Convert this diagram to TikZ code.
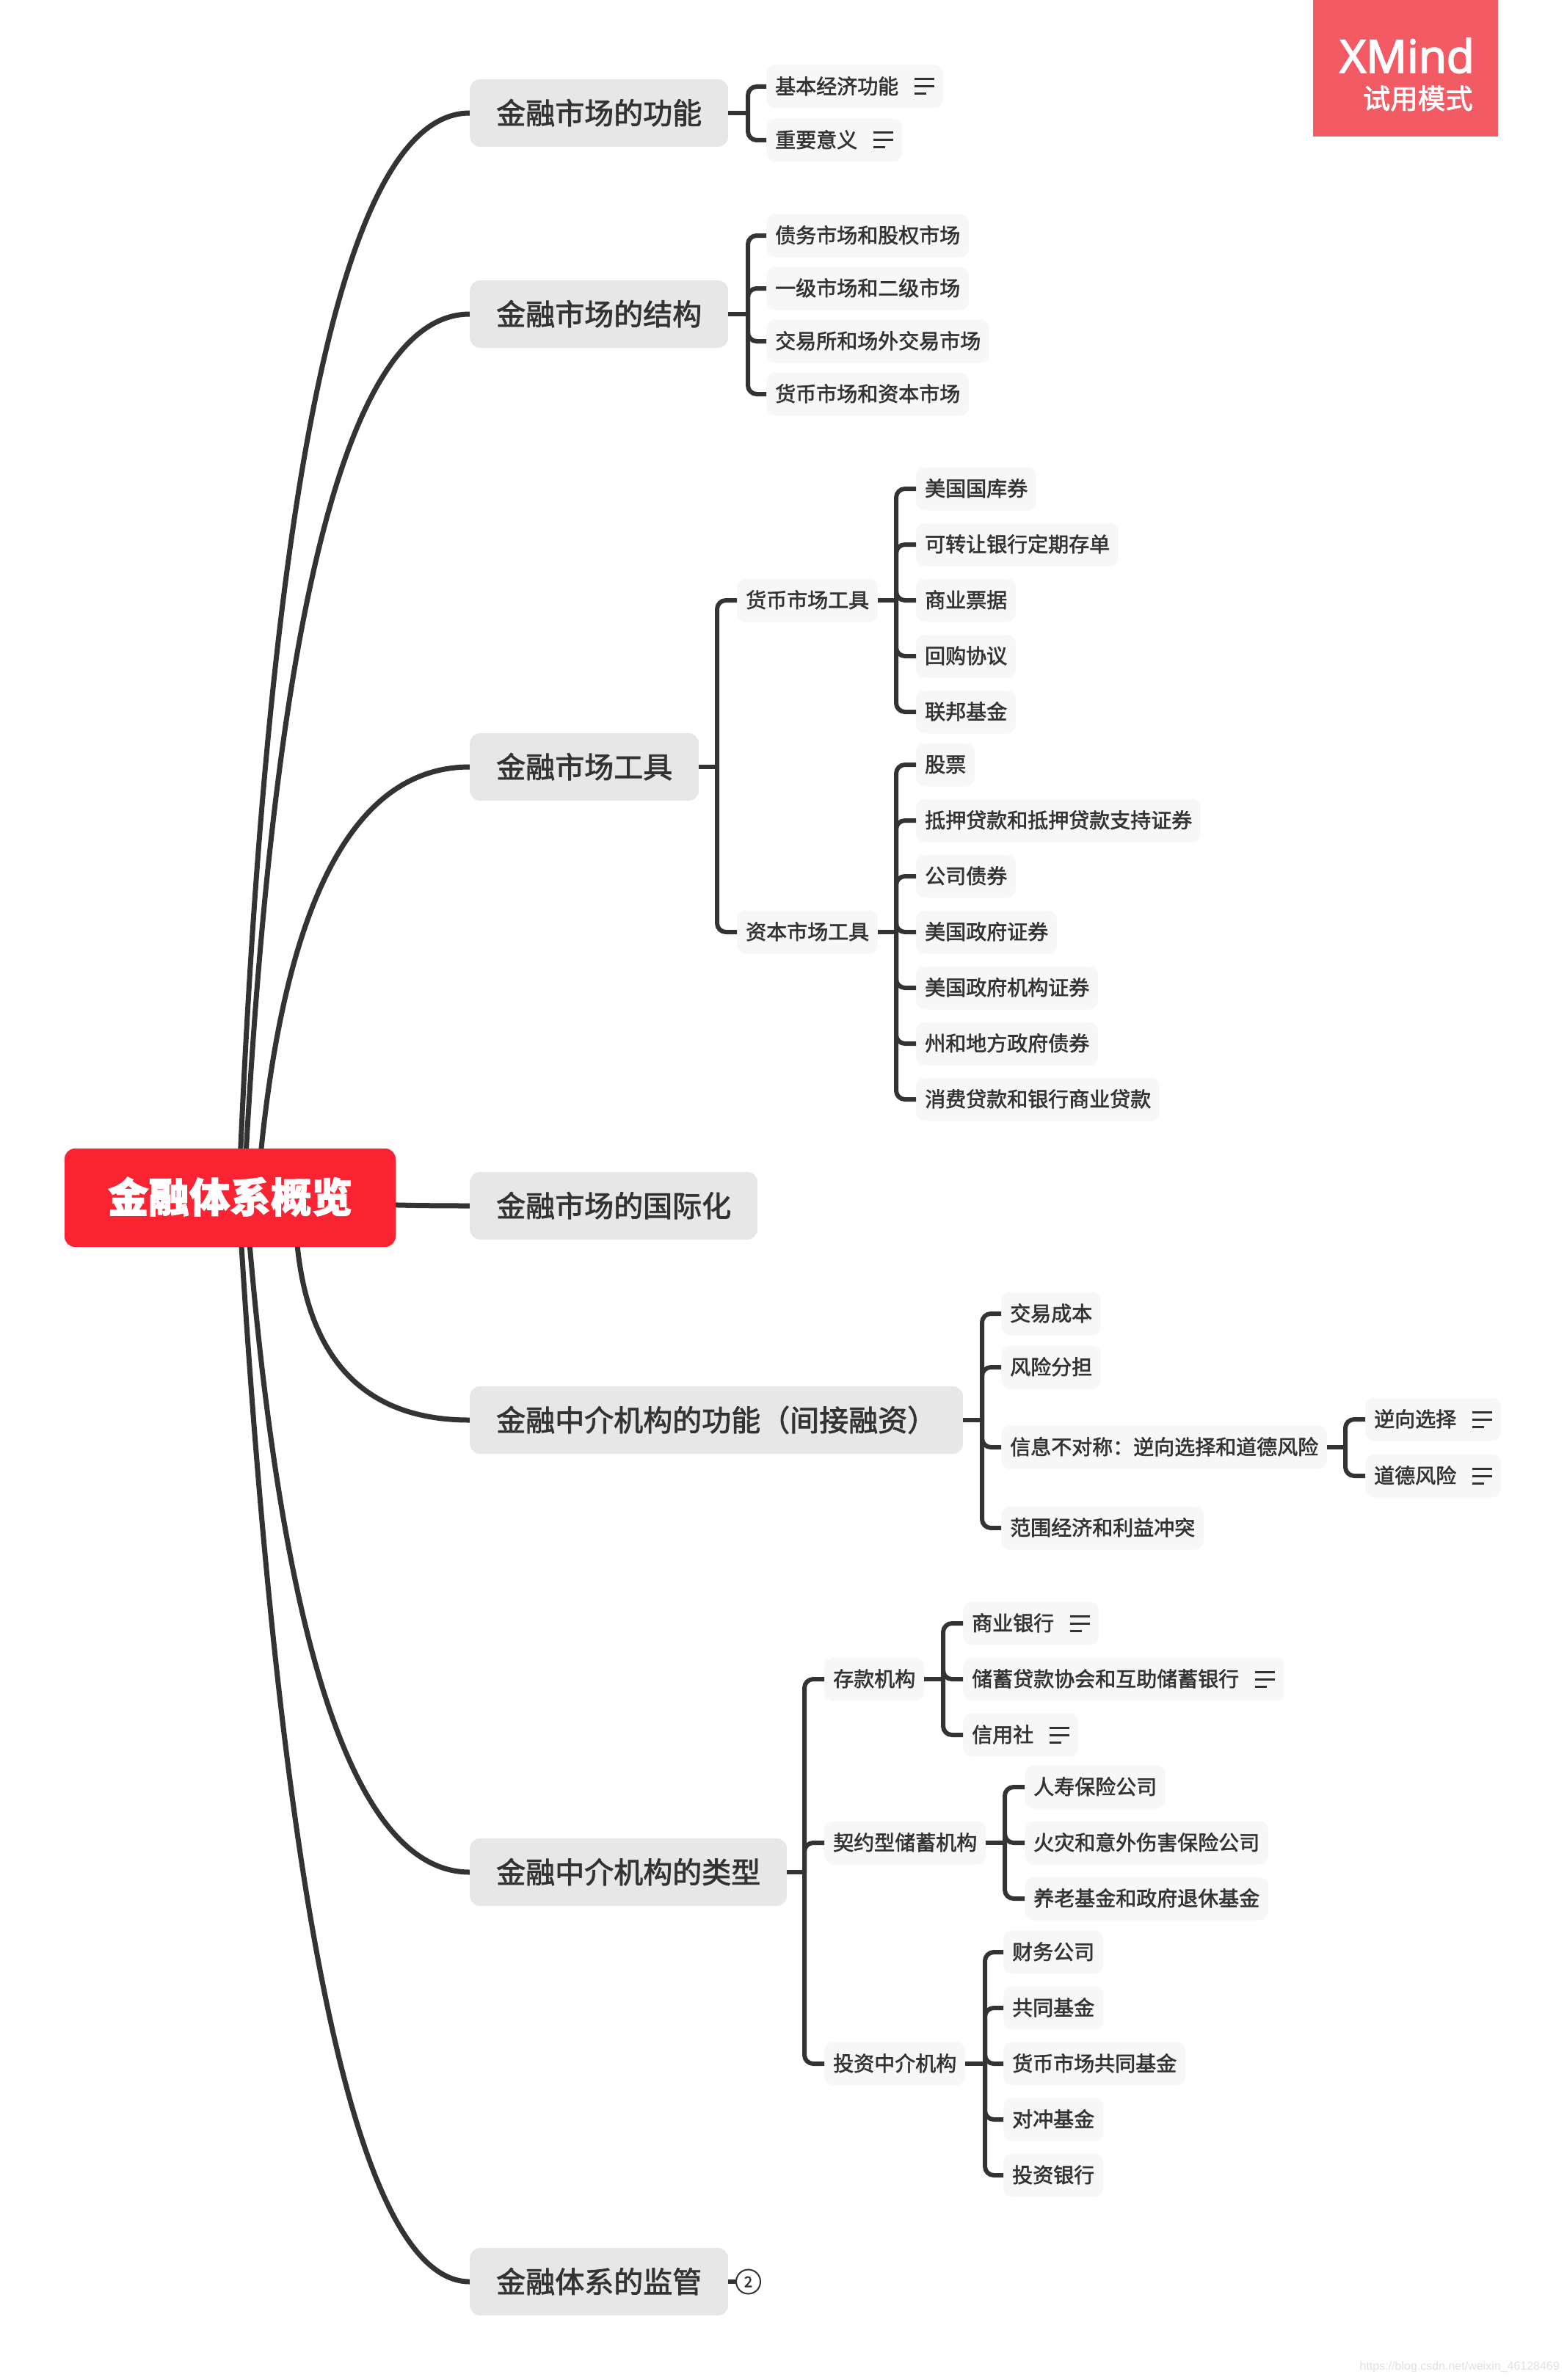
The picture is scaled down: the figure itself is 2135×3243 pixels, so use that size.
\documentclass[tikz,border=0pt]{standalone}
\usepackage{fontspec}
\usetikzlibrary{calc,backgrounds}
\setmainfont{Noto Sans CJK SC}[FakeBold=2,BoldFeatures={FakeBold=2}]
\newfontfamily\logofont{Open Sans}[FakeBold=3]
\newfontfamily\webfont{Liberation Sans}
\definecolor{ink}{HTML}{333333}
\definecolor{rootred}{HTML}{F92331}
\definecolor{topicgray}{HTML}{E7E7E7}
\definecolor{leafgray}{HTML}{F7F7F7}
\definecolor{logored}{HTML}{F25A64}
\tikzset{
  rootnode/.style={anchor=center,fill=rootred,text=white,rounded corners=14pt,font=\fontsize{55.5}{60}\selectfont\bfseries,
    minimum width=451pt,minimum height=134pt,text height=46pt,text depth=6pt,inner sep=0pt},
  topicnode/.style={anchor=west,fill=topicgray,text=ink,rounded corners=14pt,font=\fontsize{40}{46}\selectfont,
    minimum height=92pt,text height=34pt,text depth=4pt,inner xsep=36pt,inner ysep=0pt},
  leafnode/.style={anchor=west,fill=leafgray,text=ink,rounded corners=12pt,font=\fontsize{28}{34}\selectfont,
    minimum height=59pt,text height=23pt,text depth=3pt,inner xsep=12pt,inner ysep=0pt},
  trunkline/.style={draw=ink,line width=7pt},
  busline/.style={draw=ink,line width=6pt},
}
% three short bars after a leaf text
\newcommand{\noteicon}{\hspace{22pt}\raisebox{-1.5pt}{\vbox{\hrule width 27pt height 3pt\vskip 7pt\hrule width 27pt height 3pt\vskip 7pt\hrule width 16pt height 3pt}}\hspace{1pt}}
% parent, x of the bus, children
\newcommand{\branchout}[3]{%
  \coordinate (bus) at (#2,0);
  \draw[busline] (#1.east) -- (#1.east -| bus);
  \foreach \kid in {#3} {\draw[busline,rounded corners=12pt] (#1.east -| bus) |- (\kid.west);}
}
% child, x of the start, x of the bend
\newcommand{\trunk}[3]{%
  \coordinate (top) at (#2,1631);
  \coordinate (bendx) at (#3,0);
  \coordinate (bend) at (bendx |- #1.west);
  \draw[trunkline] (top) .. controls ($(top)!2/3!(bend)$) and ($(#1.west)!2/3!(bend)$) .. (#1.west);
}
\begin{document}
\begin{tikzpicture}[x=1pt,y=-1pt]
\useasboundingbox (0,0) rectangle (2135,3243);

% Logo
\node[fill=logored,minimum width=252pt,minimum height=186pt,inner sep=0pt] (logo) at (1915,93) {};
\node[anchor=base east,text=white,inner sep=0pt,font=\logofont\fontsize{62}{66}\selectfont] (logoname) at (2009,99) {XMind};
\node[anchor=east,text=white,inner sep=0pt,font=\fontsize{37.5}{42}\selectfont] (logomode) at (2007,134) {试用模式};

\begin{scope}[yshift=-1pt]
% Root and topics
\node[rootnode] (root) at (313.5,1631) {金融体系概览};
\node[topicnode] (funcs) at (640,153) {金融市场的功能};
\node[topicnode] (struct) at (640,427) {金融市场的结构};
\node[topicnode] (tools) at (640,1044) {金融市场工具};
\node[topicnode] (intl) at (640,1642) {金融市场的国际化};
\node[topicnode] (roles) at (640,1934) {金融中介机构的功能（间接融资）};
\node[topicnode] (kinds) at (640,2550) {金融中介机构的类型};
\node[topicnode] (watch) at (640,3108) {金融体系的监管};

% Functions
\node[leafnode] (basic) at (1044,117) {基本经济功能\noteicon};
\node[leafnode] (meaning) at (1044,190) {重要意义\noteicon};
\branchout{funcs}{1019}{basic,meaning}

% Structure
\node[leafnode] (debt) at (1044,320) {债务市场和股权市场};
\node[leafnode] (primary) at (1044,392) {一级市场和二级市场};
\node[leafnode] (exch) at (1044,464) {交易所和场外交易市场};
\node[leafnode] (money) at (1044,536) {货币市场和资本市场};
\branchout{struct}{1019}{debt,primary,exch,money}

% Instruments
\node[leafnode] (moneytool) at (1004,817) {货币市场工具};
\node[leafnode] (capitool) at (1004,1269) {资本市场工具};
\branchout{tools}{977}{moneytool,capitool}

\node[leafnode] (bills) at (1248,665) {美国国库券};
\node[leafnode] (cds) at (1248,741) {可转让银行定期存单};
\node[leafnode] (paper) at (1248,817) {商业票据};
\node[leafnode] (repo) at (1248,893) {回购协议};
\node[leafnode] (fed) at (1248,969) {联邦基金};
\branchout{moneytool}{1221}{bills,cds,paper,repo,fed}

\node[leafnode] (stock) at (1248,1041) {股票};
\node[leafnode] (mortgage) at (1248,1117) {抵押贷款和抵押贷款支持证券};
\node[leafnode] (corp) at (1248,1193) {公司债券};
\node[leafnode] (gov) at (1248,1269) {美国政府证券};
\node[leafnode] (agency) at (1248,1345) {美国政府机构证券};
\node[leafnode] (state) at (1248,1421) {州和地方政府债券};
\node[leafnode] (loans) at (1248,1497) {消费贷款和银行商业贷款};
\branchout{capitool}{1221}{stock,mortgage,corp,gov,agency,state,loans}

% Intermediaries: roles
\node[leafnode] (cost) at (1364,1789) {交易成本};
\node[leafnode] (risk) at (1364,1862) {风险分担};
\node[leafnode] (asym) at (1364,1971) {信息不对称：逆向选择和道德风险};
\node[leafnode] (scope) at (1364,2081) {范围经济和利益冲突};
\branchout{roles}{1338}{cost,risk,asym,scope}

\node[leafnode] (adverse) at (1860,1933) {逆向选择\noteicon};
\node[leafnode] (moral) at (1860,2010) {道德风险\noteicon};
\branchout{asym}{1833}{adverse,moral}

% Intermediaries: kinds
\node[leafnode] (deposit) at (1123,2287) {存款机构};
\node[leafnode] (contract) at (1123,2510) {契约型储蓄机构};
\node[leafnode] (invest) at (1123,2811) {投资中介机构};
\branchout{kinds}{1096}{deposit,contract,invest}

\node[leafnode] (bank) at (1312,2211) {商业银行\noteicon};
\node[leafnode] (savings) at (1312,2287) {储蓄贷款协会和互助储蓄银行\noteicon};
\node[leafnode] (credit) at (1312,2363) {信用社\noteicon};
\branchout{deposit}{1285}{bank,savings,credit}

\node[leafnode] (life) at (1396,2434) {人寿保险公司};
\node[leafnode] (fire) at (1396,2510) {火灾和意外伤害保险公司};
\node[leafnode] (pension) at (1396,2586) {养老基金和政府退休基金};
\branchout{contract}{1369}{life,fire,pension}

\node[leafnode] (finco) at (1367,2659) {财务公司};
\node[leafnode] (mutual) at (1367,2735) {共同基金};
\node[leafnode] (mmf) at (1367,2811) {货币市场共同基金};
\node[leafnode] (hedge) at (1367,2887) {对冲基金};
\node[leafnode] (ibank) at (1367,2963) {投资银行};
\branchout{invest}{1342}{finco,mutual,mmf,hedge,ibank}

% Folded branch
\node[circle,draw=ink,fill=white,line width=2pt,minimum size=33pt,inner sep=0pt,text=ink,font=\fontsize{20}{24}\selectfont] (fold) at (1019.5,3108) {2};
\draw[busline] (watch.east) -- (fold.west);

% Curves from the root
\begin{pgfonlayer}{background}
\trunk{funcs}{325}{385}
\trunk{struct}{332}{392}
\trunk{tools}{350}{395}
\trunk{intl}{450}{450}
\trunk{roles}{402}{402}
\trunk{kinds}{335}{405}
\trunk{watch}{325}{412}
\end{pgfonlayer}
\end{scope}

% Watermark
\node[anchor=east,inner sep=0pt,text=black!12,font=\webfont\fontsize{16}{20}\selectfont] (mark) at (2125,3225) {https://blog.csdn.net/weixin\_46128469};
\end{tikzpicture}
\end{document}
